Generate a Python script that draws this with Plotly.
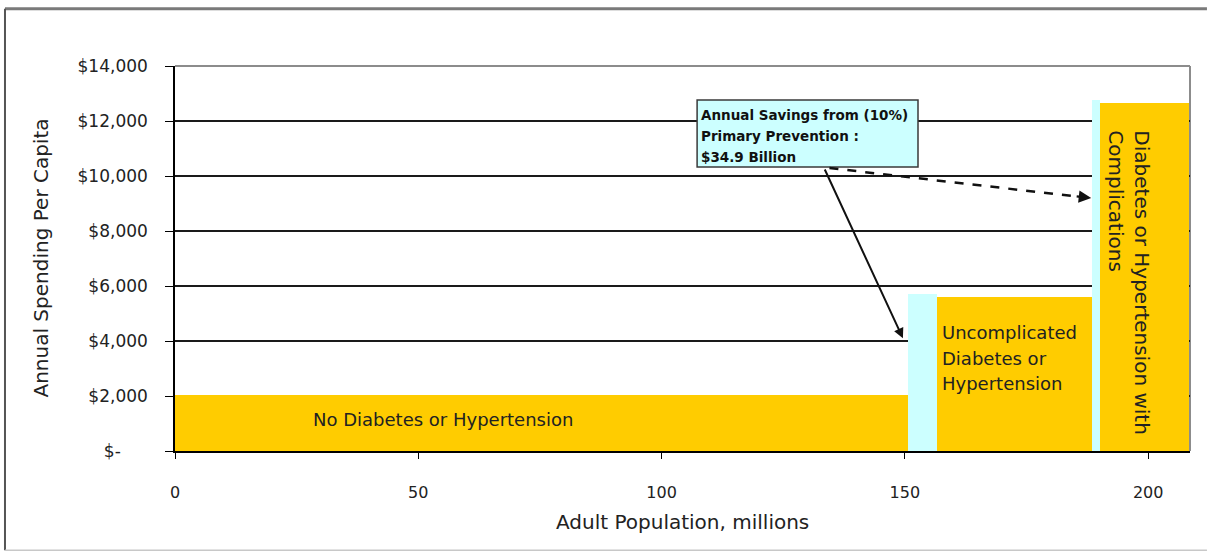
import plotly.graph_objects as go

# Population groups (millions of adults) and per-capita annual spending
group_labels = [
    "No Diabetes or Hypertension",
    "Uncomplicated Diabetes or Hypertension",
    "Diabetes or Hypertension with Complications",
]
group_population = [150.7, 31.9, 18.3]
group_spending = [2050, 5600, 12650]

# Adults kept out of each group by primary prevention (shown before each group)
averted_population = [0.0, 5.9, 1.6]
averted_spending = [0, 5700, 12750]

# Axis ticks
x_ticks = [0, 50, 100, 150, 200]
y_ticks = [0, 2000, 4000, 6000, 8000, 10000, 12000, 14000]
y_tick_text = ["$-" + "\u00a0" * 5, "$2,000", "$4,000", "$6,000", "$8,000",
               "$10,000", "$12,000", "$14,000"]

savings_lines = ["Annual Savings from (10%)", "Primary Prevention :", "$34.9 Billion"]

YELLOW = "#FFCC00"
CYAN = "#CCFFFF"
FONT = "DejaVu Sans"
INK = "#222222"

# Lay the groups end to end along the population axis
seg_x, seg_w, seg_h, seg_c = [], [], [], []
pos = 0.0
for pop, spend, a_pop, a_spend in zip(group_population, group_spending,
                                      averted_population, averted_spending):
    if a_pop > 0:
        seg_x.append(pos); seg_w.append(a_pop); seg_h.append(a_spend); seg_c.append(CYAN)
        pos += a_pop
    seg_x.append(pos); seg_w.append(pop); seg_h.append(spend); seg_c.append(YELLOW)
    pos += pop

fig = go.Figure()
fig.add_trace(go.Bar(
    x=seg_x, y=seg_h, width=seg_w, offset=0,
    marker=dict(color=seg_c, line=dict(width=0)),
    hoverinfo="skip", showlegend=False,
))

fig.update_layout(
    width=1207, height=554,
    margin=dict(l=175, r=17, t=66, b=103),
    paper_bgcolor="white", plot_bgcolor="white",
    bargap=0,
    font=dict(family=FONT, color=INK),
    xaxis=dict(
        range=[0, 208.6], tickvals=x_ticks, ticks="outside", ticklen=6,
        tickcolor="#000", showline=True, linecolor="#000", linewidth=1.5,
        showgrid=False, zeroline=False, tickfont=dict(size=16, color=INK),
        ticklabelstandoff=20,
    ),
    yaxis=dict(
        range=[0, 14000], tickvals=y_ticks, ticktext=y_tick_text,
        ticks="outside", ticklen=8, tickcolor="#000",
        showline=True, linecolor="#000", linewidth=1.5,
        showgrid=True, gridcolor="#1a1a1a", gridwidth=1.5, zeroline=False,
        tickfont=dict(size=17, color=INK), ticklabelstandoff=14,
    ),
)

shapes = []
# Plot-area border (top and right)
shapes.append(dict(type="line", xref="paper", yref="paper", x0=0, x1=1, y0=1, y1=1,
                   line=dict(color="#8c8c8c", width=2), layer="above"))
shapes.append(dict(type="line", xref="paper", yref="paper", x0=1, x1=1, y0=0, y1=1,
                   line=dict(color="#8c8c8c", width=2), layer="below"))
# Outer chart frame: top, left and bottom edges
frame = dict(xref="paper", yref="paper", layer="below")
shapes.append(dict(type="line", x0=-0.1675, x1=1.0167, y0=1.149, y1=1.149,
                   line=dict(color="#7a7a7a", width=3), **frame))
shapes.append(dict(type="line", x0=-0.1675, x1=-0.1675, y0=-0.258, y1=1.149,
                   line=dict(color="#555555", width=2), **frame))
shapes.append(dict(type="line", x0=-0.1675, x1=1.0167, y0=-0.258, y1=-0.258,
                   line=dict(color="#c8c8c8", width=1.5), **frame))
# Savings call-out box
shapes.append(dict(type="rect", xref="x", yref="y", x0=107.3, x1=152.7, y0=10330, y1=12760,
                   fillcolor=CYAN, line=dict(color="#3a3a3a", width=1.5), layer="above"))
# Dashed leader to the complications group
shapes.append(dict(type="line", xref="x", yref="y", x0=134.5, y0=10290, x1=186.0, y1=9240,
                   line=dict(color="#111", width=2.5, dash="dash"), layer="above"))
fig.update_layout(shapes=shapes)

ann = []
# Axis titles
ann.append(dict(text="Annual Spending Per Capita", xref="paper", yref="paper",
                x=-0.133, y=0.5, xanchor="center", yanchor="middle", textangle=-90,
                showarrow=False, font=dict(size=20, color=INK)))
ann.append(dict(text="Adult Population, millions", xref="paper", yref="paper",
                x=0.5, y=-0.184, xanchor="center", yanchor="middle",
                showarrow=False, font=dict(size=20, color=INK)))

# Group labels
ann.append(dict(text=group_labels[0], x=55, y=1160, xref="x", yref="y",
                showarrow=False, font=dict(size=18, color=INK)))
unc_lines = ["Uncomplicated", "Diabetes or", "Hypertension"]
for i, line in enumerate(unc_lines):
    ann.append(dict(text=line, x=157.3, y=4327 - i * 945, xref="x", yref="y",
                    xanchor="left", showarrow=False, font=dict(size=18, color=INK)))
ann.append(dict(text="Diabetes or Hypertension with<br>Complications",
                x=196.1, y=11745, xref="x", yref="y", xanchor="center", yanchor="top",
                textangle=90, align="left", showarrow=False,
                font=dict(size=20, color=INK)))

# Call-out text
for i, line in enumerate(savings_lines):
    ann.append(dict(text=line, x=107.6, y=12218 - i * 763, xref="x", yref="y",
                    xanchor="left", showarrow=False,
                    font=dict(size=13.5, color="#111", weight="bold")))

# Solid arrow to the uncomplicated group
ann.append(dict(text="", x=149.6, y=4100, ax=133.4, ay=10290, xref="x", yref="y",
                axref="x", ayref="y", showarrow=True, arrowhead=2, arrowsize=1,
                arrowwidth=2, arrowcolor="#111", standoff=0))
# Arrowhead for the dashed leader
ann.append(dict(text="", x=188.3, y=9200, ax=185.0, ay=9265, xref="x", yref="y",
                axref="x", ayref="y", showarrow=True, arrowhead=2, arrowsize=1,
                arrowwidth=2.5, arrowcolor="#111", standoff=0))
fig.update_layout(annotations=ann)

fig.write_html("out.html")
